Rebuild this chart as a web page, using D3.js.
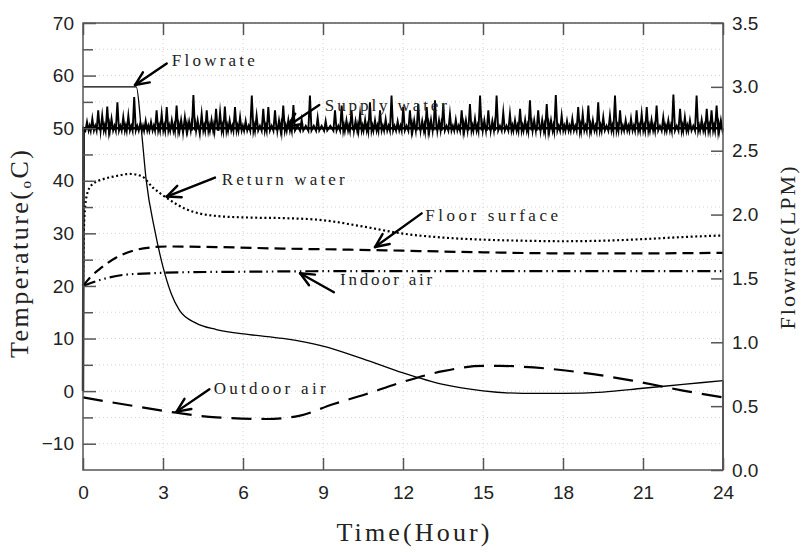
<!DOCTYPE html>
<html>
<head>
<meta charset="utf-8">
<script src="https://cdn.jsdelivr.net/npm/d3@7"></script>
<style>
body { margin: 0; background: #fff; }
svg { display: block; }
</style>
</head>
<body>
<div id="chart"></div>
<script>
// axis ticks
var timeTicks = [0, 3, 6, 9, 12, 15, 18, 21, 24];
var tempTicks = [-10, 0, 10, 20, 30, 40, 50, 60, 70];
var tempMinor = [-5, 5, 15, 25, 35, 45, 55, 65];
var flowTicks = [0, 0.5, 1.0, 1.5, 2.0, 2.5, 3.0, 3.5];

// [hour, LPM]
var flowrate = [[0, 3.0], [2.0, 3.0], [2.19, 2.66], [2.37, 2.27], [2.69, 1.88], [3.0, 1.59], [3.31, 1.38],
    [3.62, 1.25], [4.24, 1.15], [5.0, 1.10], [6.24, 1.06], [7.49, 1.03], [9.0, 0.97], [10.5, 0.87],
    [12.0, 0.76], [13.5, 0.67], [15.0, 0.62], [16.5, 0.60], [18.0, 0.60], [19.5, 0.61], [21.0, 0.64],
    [22.5, 0.67], [24.0, 0.70]];
var flowrateEnd = [[24.0, 0.70], [24.0, 0]];

// [hour, degC]
var returnWater = [[0, 20], [0.03, 30], [0.08, 35], [0.2, 38.2], [0.37, 39.4], [0.75, 40.3], [1.25, 40.9],
    [1.75, 41.3], [2.19, 40.9], [2.62, 38.7], [3.12, 36.8], [3.87, 34.6], [5.0, 33.3], [6.25, 33.0],
    [7.5, 32.9], [9.0, 32.5], [10.5, 31.3], [12.0, 29.95], [13.5, 29.2], [15.0, 28.8], [16.5, 28.6],
    [18.0, 28.5], [19.5, 28.6], [21.0, 28.9], [22.5, 29.3], [24.0, 29.6]];
var floorSurface = [[0, 20], [0.3, 21.8], [0.62, 23.2], [1.25, 25.4], [1.87, 26.7], [2.5, 27.3], [3.12, 27.5],
    [5.0, 27.4], [7.5, 27.1], [10.0, 26.9], [12.0, 26.7], [15.0, 26.4], [18.0, 26.2], [21.0, 26.2], [24.0, 26.3]];
var indoorAir = [[0, 20], [0.75, 21.3], [1.5, 22.1], [2.5, 22.4], [3.75, 22.6], [6.0, 22.7], [9.0, 22.8],
    [12.0, 22.8], [15.0, 22.8], [18.0, 22.8], [21.0, 22.8], [24.0, 22.8]];
var outdoorAir = [[0, -1.2], [1.87, -2.8], [3.5, -4.1], [5.0, -5.0], [6.87, -5.3], [8.1, -4.7], [9.37, -2.5],
    [10.6, -0.6], [11.9, 1.6], [13.5, 3.8], [15.0, 4.8], [15.64, 4.8], [16.9, 4.5], [18.75, 3.5],
    [20.6, 2.0], [22.5, 0.1], [24.0, -1.2]];

// supply water: base level and the spike peaks
var supplyBase = 50;
var supplyStart = [[0, 0], [0.02, 50]];
var supplySpikes = [[0.15, 51.2], [0.35, 51.8], [0.57, 53.4], [0.72, 52.4], [0.91, 54.1], [1.07, 51.8],
    [1.29, 54.9], [1.51, 52.1], [1.70, 52.4], [1.92, 55.9], [2.15, 51.0], [2.35, 51.4], [2.55, 51.2],
    [2.76, 53.4], [2.95, 52.7], [3.14, 54.0], [3.33, 51.5], [3.51, 54.3], [3.68, 51.6], [3.82, 52.1],
    [3.98, 51.3], [4.14, 56.3], [4.30, 51.5], [4.45, 52.7], [4.64, 53.4], [4.82, 51.6], [4.99, 53.7],
    [5.14, 53.0], [5.32, 54.1], [5.50, 51.5], [5.70, 54.0], [5.89, 52.1], [6.10, 51.4], [6.33, 56.2],
    [6.51, 52.4], [6.76, 53.7], [6.95, 54.0], [7.20, 53.4], [7.35, 51.5], [7.51, 54.3], [7.70, 51.6],
    [7.89, 54.4], [8.20, 51.6], [8.51, 56.2], [8.80, 52.0], [9.10, 51.4], [9.45, 53.4], [9.70, 54.3],
    [9.88, 51.5], [10.07, 53.4], [10.22, 51.4], [10.39, 52.7], [10.58, 51.6], [10.76, 54.9], [10.95, 51.5],
    [11.14, 53.4], [11.35, 51.7], [11.57, 56.2], [11.80, 51.3], [12.01, 54.0], [12.26, 53.4], [12.42, 51.5],
    [12.57, 54.6], [12.72, 51.4], [12.89, 54.0], [13.05, 51.6], [13.20, 55.3], [13.35, 51.5], [13.51, 54.6],
    [13.76, 52.7], [13.98, 51.6], [14.20, 53.4], [14.36, 51.5], [14.51, 54.6], [14.70, 51.8], [14.89, 56.2],
    [15.05, 51.5], [15.20, 53.4], [15.35, 51.4], [15.51, 56.2], [15.76, 53.0], [16.01, 52.7], [16.20, 51.5],
    [16.39, 53.7], [16.58, 51.6], [16.76, 55.3], [16.92, 51.5], [17.07, 53.4], [17.22, 51.6], [17.39, 54.6],
    [17.55, 51.5], [17.73, 56.3], [17.95, 52.4], [18.15, 51.4], [18.35, 51.8], [18.57, 54.0], [18.74, 52.7],
    [18.95, 54.3], [19.12, 51.5], [19.32, 54.9], [19.51, 52.1], [19.76, 52.4], [19.95, 56.2], [20.14, 53.4],
    [20.35, 51.5], [20.55, 51.8], [20.76, 53.4], [20.95, 52.7], [21.14, 54.0], [21.32, 51.6], [21.51, 54.3],
    [21.76, 52.1], [21.95, 51.5], [22.14, 56.4], [22.39, 53.7], [22.57, 52.1], [22.76, 51.5], [23.01, 56.2],
    [23.20, 51.6], [23.39, 53.7], [23.57, 53.4], [23.76, 54.3], [23.92, 51.5]];
var supplyEnd = [[24.0, 50]];

// annotations: label, arrow tip, arrow tail, text anchor (hour, degC)
var noteLabels = ["Flowrate", "Supply water", "Return water", "Floor surface", "Indoor air", "Outdoor air"];
var noteTips = [[1.95, 58.2], [7.66, 50.3], [3.14, 37.0], [10.95, 27.4], [8.14, 22.4], [3.51, -3.9]];
var noteTails = [[3.14, 62.3], [8.86, 54.4], [4.95, 40.6], [12.7, 33.8], [9.41, 18.8], [4.74, 0.35]];
var noteAnchors = [[3.33, 61.8], [9.07, 53.3], [5.2, 39.2], [12.83, 32.4], [9.64, 20.2], [4.9, -0.6]];

var width = 802, height = 552;
var plotLeft = 83, plotRight = 723, plotTop = 23, plotBottom = 470;

var svg = d3.select("#chart").append("svg")
    .attr("width", width)
    .attr("height", height);

var x = d3.scaleLinear().domain([0, 24]).range([plotLeft, plotRight]);
var yT = d3.scaleLinear().domain([-15, 70]).range([plotBottom, plotTop]);
var yF = d3.scaleLinear().domain([0, 3.5]).range([plotBottom, plotTop]);

// faint dotted grid
var grid = svg.append("g").attr("class", "grid");
grid.selectAll("line.h")
    .data(tempTicks.concat(tempMinor))
    .enter().append("line")
    .attr("class", "h")
    .attr("x1", plotLeft).attr("x2", plotRight)
    .attr("y1", function (d) { return yT(d); })
    .attr("y2", function (d) { return yT(d); });
grid.selectAll("line.v")
    .data(timeTicks.slice(1, -1))
    .enter().append("line")
    .attr("class", "v")
    .attr("y1", plotTop).attr("y2", plotBottom)
    .attr("x1", function (d) { return x(d); })
    .attr("x2", function (d) { return x(d); });
grid.selectAll("line")
    .attr("stroke", "#d4d4d4")
    .attr("stroke-width", 1)
    .attr("stroke-dasharray", "1,3");

// series
var lineT = d3.line()
    .x(function (d) { return x(d[0]); })
    .y(function (d) { return yT(d[1]); })
    .curve(d3.curveMonotoneX);
var lineF = d3.line()
    .x(function (d) { return x(d[0]); })
    .y(function (d) { return yF(d[1]); })
    .curve(d3.curveMonotoneX);
var lineRaw = d3.line()
    .x(function (d) { return x(d[0]); })
    .y(function (d) { return yT(d[1]); });

svg.append("path").datum(outdoorAir)
    .attr("d", lineT).attr("fill", "none").attr("stroke", "#000")
    .attr("stroke-width", 2.2).attr("stroke-dasharray", "20,10");

svg.append("path").datum(indoorAir)
    .attr("d", lineT).attr("fill", "none").attr("stroke", "#000")
    .attr("stroke-width", 2.2).attr("stroke-dasharray", "13,4,1.5,4,1.5,4");

svg.append("path").datum(floorSurface)
    .attr("d", lineT).attr("fill", "none").attr("stroke", "#000")
    .attr("stroke-width", 2.2).attr("stroke-dasharray", "11,6");

svg.append("path").datum(returnWater)
    .attr("d", lineT).attr("fill", "none").attr("stroke", "#000")
    .attr("stroke-width", 2.2).attr("stroke-dasharray", "2,2.6");

// supply water zig-zag built from the spike list
var supply = supplyStart.slice();
supplySpikes.forEach(function (s, i) {
    supply.push([s[0] - 0.06, supplyBase - 0.5]);
    supply.push(s);
    supply.push([s[0] + 0.06, supplyBase - 0.45]);
    var next = supplySpikes[i + 1];
    if (next) supply.push([(s[0] + next[0]) / 2, supplyBase + 0.45]);
});
supply = supply.concat(supplyEnd);

svg.append("path").datum(supply)
    .attr("d", lineRaw).attr("fill", "none").attr("stroke", "#000")
    .attr("stroke-width", 1.9).attr("stroke-linejoin", "miter")
    .attr("stroke-miterlimit", 12);
svg.append("path").datum(supplyStart.concat(supplyEnd))
    .attr("d", lineRaw).attr("fill", "none").attr("stroke", "#000")
    .attr("stroke-width", 2.4);

svg.append("path").datum(flowrate)
    .attr("d", lineF).attr("fill", "none").attr("stroke", "#000")
    .attr("stroke-width", 1.3);
svg.append("path").datum(flowrateEnd)
    .attr("d", d3.line().x(function (d) { return x(d[0]); }).y(function (d) { return yF(d[1]); }))
    .attr("fill", "none").attr("stroke", "#000").attr("stroke-width", 1.3);

// frame
svg.append("rect")
    .attr("x", plotLeft).attr("y", plotTop)
    .attr("width", plotRight - plotLeft).attr("height", plotBottom - plotTop)
    .attr("fill", "none").attr("stroke", "#555").attr("stroke-width", 1.5);

// axes
function styleAxis(g) {
    g.select(".domain").remove();
    g.selectAll(".tick line").attr("stroke", "#555").attr("stroke-width", 1.5);
    g.selectAll("text")
        .attr("fill", "#222")
        .style("font-family", "'Liberation Sans', Arial, sans-serif")
        .style("font-size", "19px");
}

svg.append("g")
    .attr("transform", "translate(" + plotLeft + ",0)")
    .call(d3.axisLeft(yT).tickValues(tempTicks).tickSize(-13).tickPadding(9))
    .call(styleAxis);
svg.append("g")
    .attr("transform", "translate(" + plotLeft + ",0)")
    .call(d3.axisLeft(yT).tickValues(tempMinor).tickSize(-10).tickFormat(""))
    .call(styleAxis);
svg.append("g")
    .attr("transform", "translate(" + plotRight + ",0)")
    .call(d3.axisRight(yF).tickValues(flowTicks).tickSize(-12).tickPadding(9).tickFormat(d3.format(".1f")))
    .call(styleAxis);
svg.append("g")
    .attr("transform", "translate(0," + plotBottom + ")")
    .call(d3.axisBottom(x).tickValues(timeTicks).tickSize(-12).tickPadding(16))
    .call(styleAxis);
svg.append("g")
    .attr("transform", "translate(0," + plotTop + ")")
    .call(d3.axisTop(x).tickValues(timeTicks).tickSize(-12).tickFormat(""))
    .call(styleAxis);

// axis titles
var serif = "'Liberation Serif', 'DejaVu Serif', serif";

svg.append("text")
    .attr("x", 413).attr("y", 541)
    .attr("text-anchor", "middle")
    .attr("textLength", 153).attr("lengthAdjust", "spacing")
    .style("font-family", serif).style("font-size", "26px").attr("fill", "#222")
    .text("Time(Hour)");

var yTitle = svg.append("text")
    .attr("transform", "translate(28,254) rotate(-90)")
    .attr("text-anchor", "middle")
    .attr("textLength", 208).attr("lengthAdjust", "spacing")
    .style("font-family", serif).style("font-size", "26px").attr("fill", "#222");
yTitle.append("tspan").text("Temperature(");
yTitle.append("tspan").attr("dy", 3).style("font-size", "15px").text("o");
yTitle.append("tspan").attr("dy", -3).text("C)");

svg.append("text")
    .attr("transform", "translate(795,248) rotate(-90)")
    .attr("text-anchor", "middle")
    .attr("textLength", 163).attr("lengthAdjust", "spacing")
    .style("font-family", serif).style("font-size", "22px").attr("fill", "#222")
    .text("Flowrate(LPM)");

// annotations with open arrow heads
var noteWidths = [83, 122, 123, 133, 92, 112];
var arrows = svg.append("g").attr("class", "arrows");

noteLabels.forEach(function (label, i) {
    var tx = x(noteTails[i][0]), ty = yT(noteTails[i][1]);
    var px = x(noteTips[i][0]), py = yT(noteTips[i][1]);
    var ang = Math.atan2(ty - py, tx - px);
    var headLen = 15, spread = 0.42;

    arrows.append("line")
        .attr("x1", tx).attr("y1", ty).attr("x2", px).attr("y2", py);
    [-spread, spread].forEach(function (s) {
        arrows.append("line")
            .attr("x1", px).attr("y1", py)
            .attr("x2", px + headLen * Math.cos(ang + s))
            .attr("y2", py + headLen * Math.sin(ang + s));
    });

    svg.append("text")
        .attr("x", x(noteAnchors[i][0]))
        .attr("y", yT(noteAnchors[i][1]))
        .attr("textLength", noteWidths[i]).attr("lengthAdjust", "spacing")
        .style("font-family", serif).style("font-size", "17px").attr("fill", "#222")
        .text(label);
});

arrows.selectAll("line")
    .attr("stroke", "#000")
    .attr("stroke-width", 2.4)
    .attr("stroke-linecap", "round");
</script>
</body>
</html>
